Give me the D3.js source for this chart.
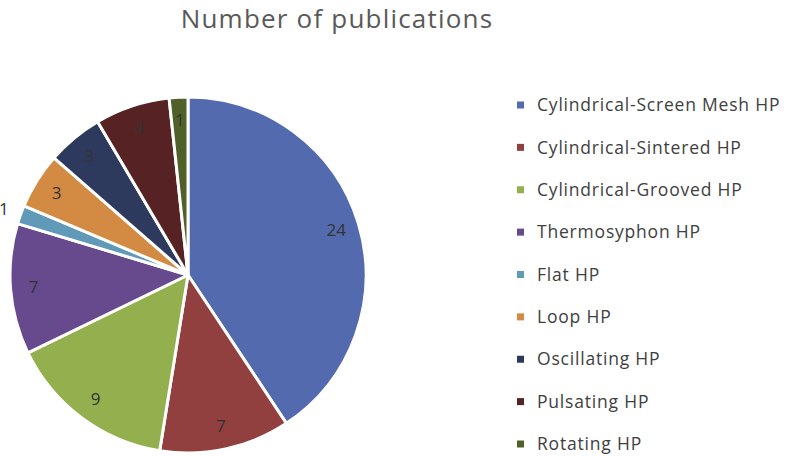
<!DOCTYPE html>
<html>
<head>
<meta charset="utf-8">
<script src="https://cdn.jsdelivr.net/npm/d3@7"></script>
<style>
  body { margin: 0; background: #fff; }
  svg { font-family: "Open Sans", Lato, sans-serif; }
</style>
</head>
<body>
<div id="chart"></div>
<script>
// data
const categories = [
  "Cylindrical-Screen Mesh HP",
  "Cylindrical-Sintered HP",
  "Cylindrical-Grooved HP",
  "Thermosyphon HP",
  "Flat HP",
  "Loop HP",
  "Oscillating HP",
  "Pulsating HP",
  "Rotating HP"
];
const publications = [24, 7, 9, 7, 1, 3, 3, 4, 1];
const sliceColors = ["#546aae", "#913f3f", "#94b04e", "#674a8d", "#6199b8",
  "#d38a43", "#2d3a5e", "#562223", "#4f6128"];

const width = 787, height = 456;
const cx = 188, cy = 275, radius = 178;

const svg = d3.select("#chart").append("svg")
  .attr("width", width)
  .attr("height", height);

svg.append("text")
  .attr("x", 337).attr("y", 28)
  .attr("text-anchor", "middle")
  .attr("font-size", 26)
  .attr("letter-spacing", 1.2)
  .attr("fill", "#595959")
  .text("Number of publications");

const data = categories.map((c, i) => ({ name: c, value: publications[i] }));

const pie = d3.pie().sort(null).value(d => d.value);
const arcs = pie(data);

const arc = d3.arc().innerRadius(0).outerRadius(radius);
const labelArc = d3.arc().innerRadius(radius * 0.87).outerRadius(radius * 0.87);
const outerLabelArc = d3.arc().innerRadius(radius * 1.1).outerRadius(radius * 1.1);

const color = d3.scaleOrdinal().domain(categories).range(sliceColors);

const pieG = svg.append("g")
  .attr("transform", `translate(${cx},${cy})`);

pieG.selectAll("path").data(arcs).enter()
  .append("path")
  .attr("d", arc)
  .attr("fill", d => color(d.data.name))
  .attr("stroke", "#fff")
  .attr("stroke-width", 3)
  .attr("stroke-linejoin", "round");

/* Flat HP label sits outside the pie in the reference */
pieG.selectAll("text.lbl").data(arcs).enter()
  .append("text")
  .attr("class", "lbl")
  .attr("transform", d => {
    const a = d.data.name === "Flat HP" ? outerLabelArc : labelArc;
    return `translate(${a.centroid(d)})`;
  })
  .attr("text-anchor", "middle")
  .attr("dy", "0.35em")
  .attr("font-size", 17)
  .attr("fill", "#333")
  .text(d => d.data.value);

/* legend */
const legendY = d3.scalePoint().domain(categories).range([105, 444]);
const legend = svg.append("g");
const item = legend.selectAll("g").data(categories).enter()
  .append("g")
  .attr("transform", d => `translate(517,${legendY(d)})`);
item.append("rect")
  .attr("x", 0).attr("y", -3.5)
  .attr("width", 7).attr("height", 7)
  .attr("fill", d => color(d));
item.append("text")
  .attr("x", 20)
  .attr("dy", "0.35em")
  .attr("font-size", 17.5)
  .attr("letter-spacing", 0.8)
  .attr("fill", "#404040")
  .text(d => d);
</script>
</body>
</html>
